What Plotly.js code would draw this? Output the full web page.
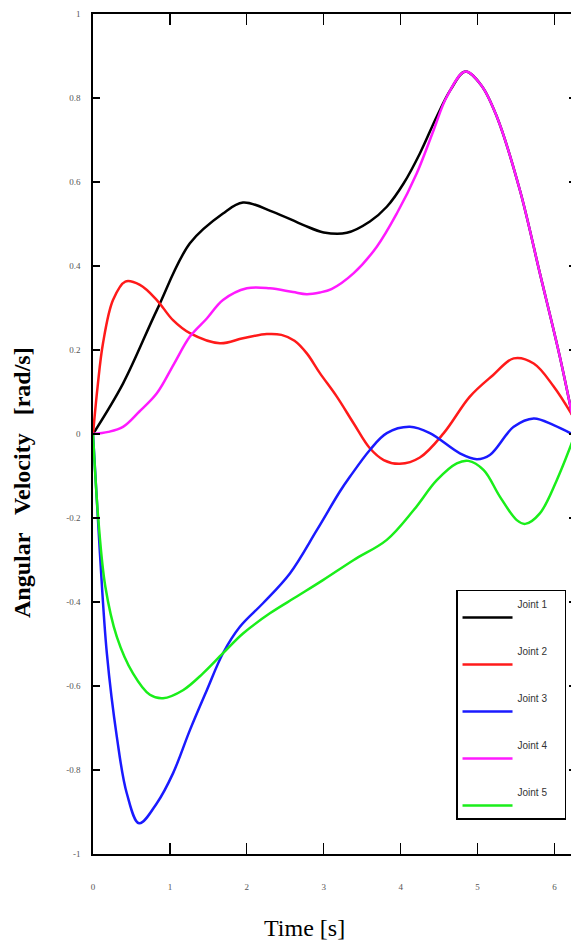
<!DOCTYPE html>
<html>
<head>
<meta charset="utf-8">
<script src="https://cdn.plot.ly/plotly-3.0.1.min.js"></script>
<style>
  html, body { margin: 0; padding: 0; overflow: hidden; background: #fff; }
  #chart { width: 600px; height: 941px; }
</style>
</head>
<body>
<div id="chart"></div>
<script>
// ---- data ----
const seriesNames = ["Joint 1", "Joint 2", "Joint 3", "Joint 4", "Joint 5"];

const t1 = [0, 0.39, 0.83, 1.26, 1.69, 1.95, 2.34, 2.73, 3.0, 3.3, 3.6, 3.82, 4.04, 4.25, 4.47, 4.65, 4.84, 5.05, 5.25, 5.55, 5.81, 6.07, 6.28];
const v1 = [0, 0.12, 0.295, 0.454, 0.525, 0.551, 0.529, 0.498, 0.48, 0.479, 0.506, 0.541, 0.597, 0.668, 0.756, 0.82, 0.863, 0.83, 0.756, 0.581, 0.383, 0.184, 0.0];

const t2 = [0, 0.06, 0.13, 0.26, 0.42, 0.61, 0.83, 1.04, 1.26, 1.65, 1.95, 2.26, 2.45, 2.62, 2.78, 2.95, 3.17, 3.39, 3.6, 3.78, 3.99, 4.25, 4.56, 4.9, 5.2, 5.47, 5.73, 5.99, 6.28];
const v2 = [0, 0.113, 0.216, 0.319, 0.363, 0.355, 0.319, 0.271, 0.24, 0.216, 0.228, 0.238, 0.236, 0.222, 0.192, 0.145, 0.089, 0.025, -0.034, -0.062, -0.071, -0.056, 0.002, 0.089, 0.14, 0.18, 0.168, 0.113, 0.03];

const t3 = [0, 0.09, 0.18, 0.31, 0.44, 0.6, 0.83, 1.04, 1.26, 1.48, 1.69, 1.91, 2.21, 2.56, 2.91, 3.21, 3.34, 3.6, 3.82, 4.12, 4.38, 4.77, 4.99, 5.16, 5.47, 5.73, 5.99, 6.28];
const v3 = [0, -0.284, -0.522, -0.721, -0.856, -0.927, -0.879, -0.808, -0.705, -0.61, -0.522, -0.459, -0.403, -0.332, -0.229, -0.137, -0.102, -0.038, 0.002, 0.017, 0.002, -0.046, -0.06, -0.05, 0.017, 0.037, 0.021, -0.005];

const t4 = [0, 0.2, 0.39, 0.6, 0.83, 1.05, 1.26, 1.48, 1.69, 2.0, 2.3, 2.6, 2.78, 2.95, 3.1, 3.39, 3.69, 3.95, 4.21, 4.43, 4.6, 4.84, 5.05, 5.25, 5.55, 5.81, 6.07, 6.28];
const v4 = [0, 0.005, 0.017, 0.053, 0.097, 0.166, 0.232, 0.275, 0.319, 0.347, 0.347, 0.338, 0.333, 0.337, 0.345, 0.383, 0.446, 0.525, 0.621, 0.724, 0.803, 0.863, 0.83, 0.756, 0.581, 0.383, 0.184, 0.0];

const t5 = [0, 0.07, 0.16, 0.31, 0.52, 0.74, 0.91, 1.17, 1.43, 1.69, 1.95, 2.3, 2.65, 2.99, 3.39, 3.82, 4.17, 4.47, 4.73, 4.88, 5.08, 5.29, 5.51, 5.62, 5.81, 6.03, 6.28];
const v5 = [0, -0.205, -0.363, -0.483, -0.57, -0.621, -0.629, -0.61, -0.57, -0.522, -0.475, -0.427, -0.387, -0.348, -0.3, -0.252, -0.181, -0.11, -0.07, -0.064, -0.086, -0.149, -0.205, -0.214, -0.189, -0.11, 0.005];

const xTickVals = [0, 1, 2, 3, 4, 5, 6];
const yTickVals = [-1, -0.8, -0.6, -0.4, -0.2, 0, 0.2, 0.4, 0.6, 0.8, 1];
const yTickText = ["-1", "-0.8", "-0.6", "-0.4", "-0.2", "0", "0.2", "0.4", "0.6", "0.8", "1"];

const xTitle = "Time [s]";
const yTitle = "Angular\u00A0\u00A0 Velocity\u00A0\u00A0 [rad/s]";

// ---- chart ----
const xs = [t1, t2, t3, t4, t5];
const ys = [v1, v2, v3, v4, v5];
const colors = ["#000000", "#ff1a1a", "#1a1aff", "#ff1aff", "#1aee1a"];
const pad = "\u00A0".repeat(15);

const traces = xs.map((x, i) => ({
  x: x, y: ys[i],
  type: "scatter", mode: "lines",
  name: seriesNames[i] + "<br>" + pad,
  legendgroup: "g" + i,
  line: { color: colors[i], width: 2.5, shape: "spline", smoothing: 1 }
}));

const axisCommon = {
  showline: true, linecolor: "#000", linewidth: 1.6, mirror: "ticks",
  showgrid: false, zeroline: false, ticks: "inside", tickcolor: "#000",
  tickwidth: 1.2
};

const layout = {
  width: 600, height: 941,
  margin: { l: 93, r: 24, t: 14, b: 87 },
  paper_bgcolor: "#fff", plot_bgcolor: "#fff",
  showlegend: true,
  xaxis: Object.assign({}, axisCommon, {
    range: [0, 6.28], tickvals: xTickVals, ticklen: 11,
    ticklabelstandoff: 24,
    tickfont: { family: "Liberation Serif", size: 9, color: "#555" }
  }),
  yaxis: Object.assign({}, axisCommon, {
    range: [-1, 1], tickvals: yTickVals, ticktext: yTickText, ticklen: 7,
    ticklabelstandoff: 9,
    tickfont: { family: "Liberation Serif", size: 9, color: "#555" }
  }),
  legend: {
    x: 0.7516, y: 0.3143, xanchor: "left", yanchor: "top",
    bgcolor: "#fff", bordercolor: "#000", borderwidth: 1.5,
    font: { family: "Liberation Sans", size: 10, color: "#333" },
    valign: "bottom", tracegroupgap: 18, itemwidth: 50,
    traceorder: "grouped"
  },
  annotations: [
    { text: xTitle, xref: "paper", yref: "paper", x: (304 - 93) / 483, y: (854 - 928) / 840,
      xanchor: "center", yanchor: "middle", showarrow: false,
      font: { family: "Liberation Serif", size: 24, color: "#000" } },
    { text: "<b>" + yTitle + "</b>", xref: "paper", yref: "paper", x: (22 - 93) / 483, y: (854 - 483) / 840,
      xanchor: "center", yanchor: "middle", showarrow: false, textangle: -90,
      font: { family: "Liberation Serif", size: 24, color: "#000" } }
  ]
};

Plotly.newPlot("chart", traces, layout, { displayModeBar: false, staticPlot: true });
</script>
</body>
</html>
